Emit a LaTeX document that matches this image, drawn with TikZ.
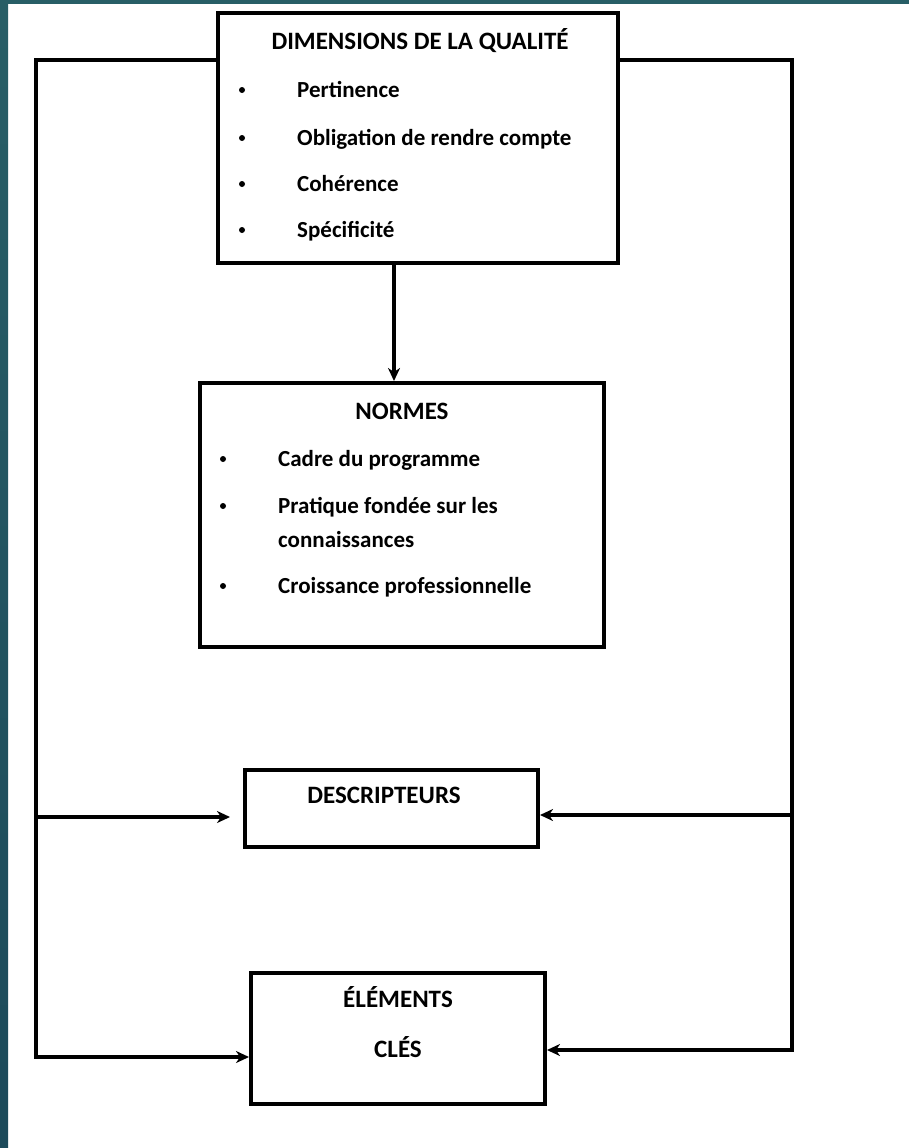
\documentclass[tikz,border=0pt]{standalone}
\usepackage{fontspec}
\setmainfont{Carlito}
\usetikzlibrary{arrows.meta}
\definecolor{frameteal}{RGB}{40,94,102}
\definecolor{framedeep}{RGB}{28,74,90}
\begin{document}
\begin{tikzpicture}[x=1pt,y=-1pt,
  box/.style={draw=black,line width=4pt,rectangle,inner sep=0pt},
  item/.style={font=\fontsize{23}{27}\selectfont\bfseries,inner sep=0pt,anchor=base west},
  title/.style={font=\fontsize{25}{29}\selectfont\bfseries,inner sep=0pt,anchor=base},
  dot/.style={circle,fill=black,inner sep=0pt,minimum size=6pt},
  wire/.style={line width=3.5pt,line cap=rect},
  arr/.style={line width=3.2pt,-{Stealth[length=13pt,width=12pt,inset=4pt]}}]
\useasboundingbox (0,0) rectangle (909,1148);
\fill[white] (0,0) rectangle (909,1148);
% slide frame along the top and the left side
\fill[frameteal] (0,0) rectangle (909,4);
\shade[top color=frameteal,bottom color=framedeep] (0,0) rectangle (8,1148);

% boxes
\node[box,minimum width=400pt,minimum height=250pt] (dim) at (418,138) {};
\node[box,minimum width=404pt,minimum height=264pt] (norm) at (402,515) {};
\node[box,minimum width=293pt,minimum height=77pt] (descr) at (391.5,808.5) {};
\node[box,minimum width=294pt,minimum height=131pt] (elem) at (398,1038.5) {};

% quality dimensions
\node[title] (dimT) at (420,50) {DIMENSIONS DE LA QUALITÉ};
\node[dot] (d1) at (242,90) {};
\node[item] (t1) at (297,97) {Pertinence};
\node[dot] (d2) at (242,138) {};
\node[item] (t2) at (297,145) {Obligation de rendre compte};
\node[dot] (d3) at (242,184) {};
\node[item] (t3) at (297,191) {Cohérence};
\node[dot] (d4) at (242,230) {};
\node[item] (t4) at (297,237) {Spécificité};

% standards
\node[title] (normT) at (402,419) {NORMES};
\node[dot] (n1) at (223,459) {};
\node[item] (u1) at (278,466) {Cadre du programme};
\node[dot] (n2) at (223,506) {};
\node[item] (u2) at (278,513) {Pratique fondée sur les};
\node[item] (u2b) at (278,547) {connaissances};
\node[dot] (n3) at (223,586) {};
\node[item] (u3) at (278,593) {Croissance professionnelle};

% descriptors and key elements
\node[title] (descrT) at (384,803) {DESCRIPTEURS};
\node[title] (elemT1) at (398,1007) {ÉLÉMENTS};
\node[title] (elemT2) at (398,1057) {CLÉS};

% junction points of the side connectors
\coordinate (mid) at (394,0);
\coordinate (lTop) at (36,60);
\coordinate (lMid) at (36,817);
\coordinate (lBot) at (36,1057);
\coordinate (rTop) at (792,60);
\coordinate (rMid) at (792,815);
\coordinate (rBot) at (792,1050);

% connectors
\draw[arr] (mid |- dim.south) -- (mid |- norm.north);
\draw[wire] (dim.west |- lTop) -- (lTop) -- (lBot);
\draw[wire] (dim.east |- rTop) -- (rTop) -- (rBot);
\draw[arr] (lMid) -- (descr.west |- lMid) [shorten >=13pt];
\draw[arr] (lBot) -- (elem.west |- lBot);
\draw[arr] (rMid) -- (descr.east |- rMid);
\draw[arr] (rBot) -- (elem.east |- rBot);
\end{tikzpicture}
\end{document}
